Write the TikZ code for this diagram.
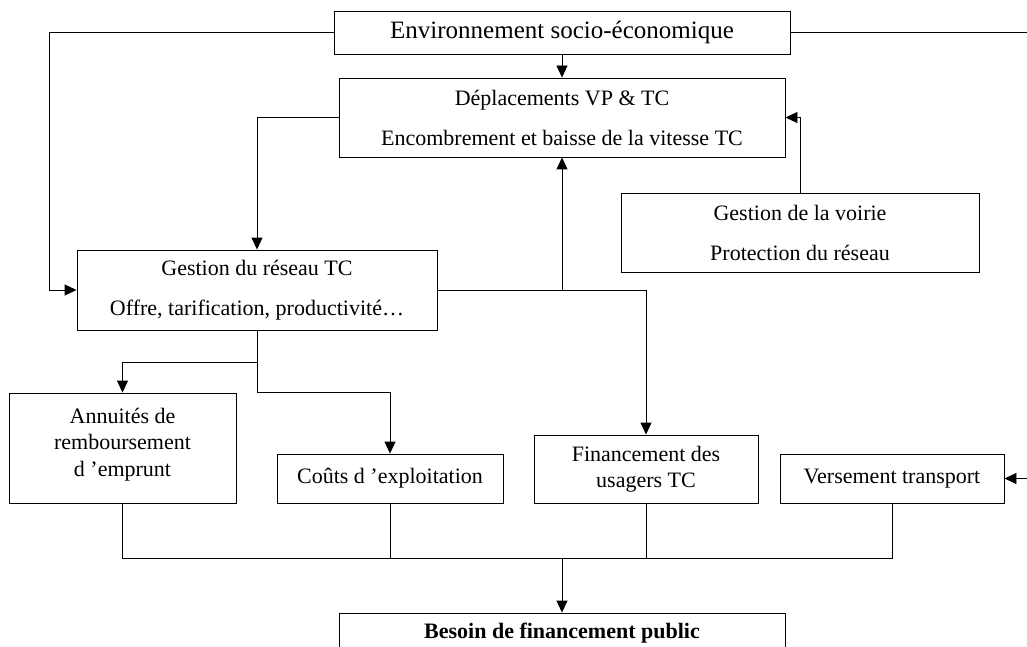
\documentclass[tikz,border=0pt]{standalone}
\usepackage{fontspec}
\setmainfont{Liberation Serif}
\usetikzlibrary{arrows.meta,calc}
\begin{document}
\begin{tikzpicture}[x=1pt,y=-1pt,
  box/.style={draw,line width=0.9pt,rectangle,inner sep=0pt,align=center,font=\fontsize{22}{40}\selectfont},
  tight/.style={font=\fontsize{22}{26.5}\selectfont},
  link/.style={line width=0.9pt},
  arr/.style={line width=0.9pt,-{Triangle[length=12pt,width=11pt]}}]
\clip (0,0) rectangle (1027,647);
\useasboundingbox (0,0) rectangle (1027,647);
\node[box,minimum width=456,minimum height=43,font=\fontsize{25}{30}\selectfont] (env) at (562,32.5) {Environnement socio-économique};
\node[box,minimum width=446,minimum height=79] (depl) at (562,117.5) {Déplacements VP \& TC\\Encombrement et baisse de la vitesse TC};
\node[box,minimum width=360,minimum height=80] (gest) at (257,290) {Gestion du réseau TC\\Offre, tarification, productivité…};
\node[box,minimum width=358,minimum height=79] (voir) at (800,232.5) {Gestion de la voirie\\Protection du réseau};
\node[box,tight,minimum width=227,minimum height=110] (ann) at (122.5,448) {Annuités de\\remboursement\\d ’emprunt\\[-14.5pt]};
\node[box,minimum width=226,minimum height=49] (cout) at (390,478.5) {Coûts d ’exploitation};
\node[box,tight,minimum width=224,minimum height=68] (fin) at (646,469) {Financement des\\usagers TC};
\node[box,minimum width=224,minimum height=49] (vers) at (892,478.5) {Versement transport};
\node[box,minimum width=446,minimum height=40] (bes) at (562,633) {\textbf{Besoin de financement public}};
% coordinates
\coordinate (lA) at (49,32.5);
\coordinate (rA) at (1040,32.5);
\coordinate (rB) at (1040,478.5);
\coordinate (g1) at (257,362);
\coordinate (g2) at (257,392);
\coordinate (jn) at (562,558);
% connectors
\draw[arr] (env.south) -- (depl.north);
\draw[arr] (env.west) -- (lA) |- (gest.west);
\draw[link] (env.east) -- (rA) -- (rB);
\draw[arr] (rB) -- (vers.east);
\draw[arr] (depl.west) -| (gest.north);
\draw[arr] (gest.east) -| (fin.north);
\draw[arr] (gest.east -| depl.south) -- (depl.south);
\draw[arr] (voir.north) |- (depl.east);
\draw[arr] (gest.south) -- (g1) -| (ann.north);
\draw[arr] (g1) -- (g2) -| (cout.north);
\draw[link] (ann.south) |- (jn);
\draw[link] (vers.south) |- (jn);
\draw[link] (cout.south) -- (cout.south |- jn);
\draw[link] (fin.south) -- (fin.south |- jn);
\draw[arr] (jn) -- (bes.north);
\end{tikzpicture}
\end{document}
